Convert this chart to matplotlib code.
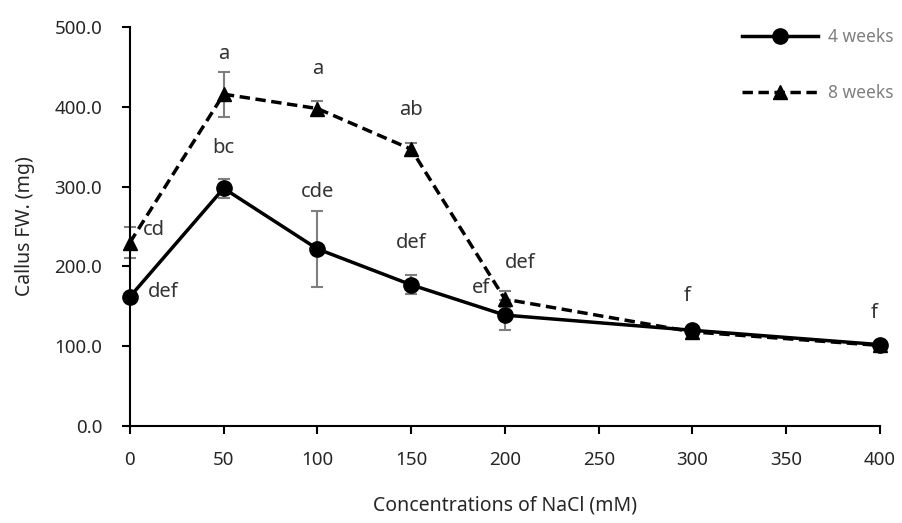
# カルス重量のグラフ
import numpy as np
from matplotlib import pyplot as plt

plt.rcParams['font.family'] = ['Noto Sans', 'DejaVu Sans']

# NaCl 濃度 (mM)
nacl = [0, 50, 100, 150, 200, 300, 400]
# 4 週間
fw_4w = [162, 298, 222, 177, 139, 120, 102]
sd_4w = [3, 12, 48, 12, 19, 3, 3]
# 8 週間
fw_8w = [230, 416, 398, 347, 159, 118, 101]
sd_8w = [20, 28, 9, 8, 10, 3, 3]

# 有意差の文字 (x, y, 文字)
sig_x = [13, 18, 50, 50, 100, 100, 150, 150, 187, 208, 297, 397]
sig_y = [246, 168, 467, 348, 447, 293, 396, 229, 173, 204, 163, 142]
sig_txt = ["cd", "def", "a", "bc", "a", "cde", "ab", "def", "ef", "def", "f", "f"]

y_ticks = [0, 100, 200, 300, 400, 500]
x_ticks = [0, 50, 100, 150, 200, 250, 300, 350, 400]

fig = plt.figure(figsize=(9.02, 5.23), dpi=100)
ax = fig.add_axes([0.144, 0.1855, 0.8316, 0.7625])

ERR_COLOR = "#7f7f7f"

ax.errorbar(nacl, fw_4w, yerr=sd_4w, fmt="none", ecolor=ERR_COLOR,
            elinewidth=1.5, capsize=4, capthick=1.5, zorder=2)
ax.errorbar(nacl, fw_8w, yerr=sd_8w, fmt="none", ecolor=ERR_COLOR,
            elinewidth=1.5, capsize=4, capthick=1.5, zorder=2)
ax.plot(nacl, fw_8w, color="black", linestyle=(0, (3, 1.6)), linewidth=2.5,
        marker="^", markersize=9.5, label="8 weeks", zorder=3)
ax.plot(nacl, fw_4w, color="black", linestyle="-", linewidth=2.5,
        marker="o", markersize=11, label="4 weeks", zorder=4)

for x, y, t in zip(sig_x, sig_y, sig_txt):
    ax.text(x, y, t, ha="center", va="center", fontsize=14.5, color="#333333")

ax.set_xlim(0, 400)
ax.set_ylim(0, 500)
ax.set_xticks(x_ticks)
ax.set_yticks(y_ticks)
ax.set_yticklabels(["{:.1f}".format(v) for v in y_ticks])
ax.tick_params(axis="both", direction="out", length=6, width=1.5,
               labelsize=13.5, colors="black")
ax.tick_params(axis="y", pad=14)
ax.tick_params(axis="x", pad=12)
for lab in ax.get_xticklabels() + ax.get_yticklabels():
    lab.set_color("#262626")
ax.spines["top"].set_visible(False)
ax.spines["right"].set_visible(False)
ax.spines["left"].set_linewidth(1.5)
ax.spines["bottom"].set_linewidth(1.5)
for art in ax.lines:
    art.set_clip_on(False)

ax.set_xlabel("Concentrations of NaCl (mM)", fontsize=14, labelpad=19,
              color="#262626")
ax.set_ylabel("Callus FW. (mg)", fontsize=14, labelpad=14, color="#262626")

# 凡例 (4 weeks が上)
h, l = ax.get_legend_handles_labels()
leg = ax.legend(h[::-1], l[::-1], loc="upper left",
                bbox_to_anchor=(742 / 902, 1 - 28 / 523),
                bbox_transform=fig.transFigure, frameon=False,
                handlelength=4.4, handletextpad=0.55, labelspacing=2.2,
                fontsize=12.5, borderpad=0, borderaxespad=0)
for txt in leg.get_texts():
    txt.set_color("#7f7f7f")

fig.savefig("out.png", dpi=100)
